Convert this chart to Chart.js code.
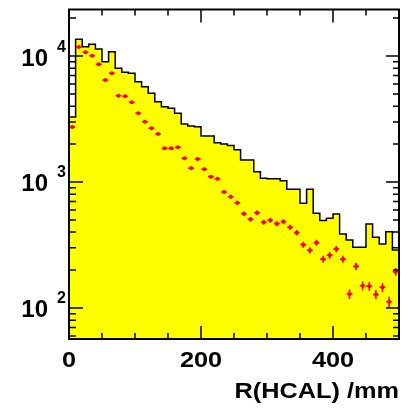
<!DOCTYPE html>
<html lang="en">
<head>
    <meta charset="UTF-8">
    <title>R(HCAL) /mm</title>
    <style>
        body { margin: 0; background: #fff; }
        #chart-container { width: 411px; height: 411px; }
    </style>
</head>
<body>
    <div id="chart-container">
        <canvas id="myChart" width="411" height="411"></canvas>
    </div>

    <script src="https://cdn.jsdelivr.net/npm/chart.js"></script>
    <script>
        // bin edges in mm (10 mm bins)
        var binEdges = [0, 10, 20, 30, 40, 50, 60, 70, 80, 90,
                        100, 110, 120, 130, 140, 150, 160, 170, 180, 190,
                        200, 210, 220, 230, 240, 250, 260, 270, 280, 290,
                        300, 310, 320, 330, 340, 350, 360, 370, 380, 390,
                        400, 410, 420, 430, 440, 450, 460, 470, 480, 490, 500];

        // yellow histogram
        var histCounts = [3280, 13560, 11850, 12390, 11360, 9010, 10810, 7980, 7430, 7290,
                          6250, 5700, 5060, 4335, 3960, 3850, 3510, 2885, 2780, 2750,
                          2318, 2318, 2050, 2000, 1945, 1800, 1496, 1496, 1208, 1070,
                          1060, 1060, 1024, 875, 875, 678, 875, 565, 494, 515,
                          557, 386, 347, 303, 303, 464, 364, 322, 403, 288];

        // red points and their errors
        var pointCounts = [2735, 11790, 10700, 10050, 8590, 6450, 7290, 4840, 4790, 4295,
                           3510, 3010, 2670, 2405, 1850, 1850, 1885, 1543, 1285, 1523,
                           1262, 1102, 1060, 833, 764, 685, 560, 506, 570, 479,
                           497, 467, 484, 437, 396, 318, 287, 330, 244, 262,
                           294, 244, 129, 214, 150, 149, 128, 146, 112, 194];
        var pointErrors = [52, 109, 103, 100, 93, 80, 85, 70, 69, 66,
                           59, 55, 52, 49, 43, 43, 43, 39, 36, 39,
                           36, 33, 33, 29, 28, 26, 24, 22, 24, 22,
                           22, 22, 22, 21, 20, 18, 17, 18, 16, 16,
                           17, 16, 11, 15, 12, 12, 11, 12, 11, 14];

        // axis ticks
        var xTicks = [0, 50, 100, 150, 200, 250, 300, 350, 400, 450, 500];
        var xLabels = [0, 200, 400];
        var yMinorTicks = [60, 70, 80, 90, 200, 300, 400, 500, 600, 700, 800, 900,
                           2000, 3000, 4000, 5000, 6000, 7000, 8000, 9000, 20000];
        var yMajorTicks = [100, 1000, 10000];
        var yExponents = ['2', '3', '4'];
        var xTitle = 'R(HCAL) /mm';

        // build datasets
        var histData = [];
        for (var i = 0; i < histCounts.length; i++) {
            histData.push({ x: binEdges[i], y: histCounts[i] });
        }
        histData.push({ x: binEdges[binEdges.length - 1], y: histCounts[histCounts.length - 1] });

        var pointData = [];
        for (var j = 0; j < pointCounts.length; j++) {
            pointData.push({ x: (binEdges[j] + binEdges[j + 1]) / 2, y: pointCounts[j] });
        }

        var FONT = '"Liberation Sans", Arial, Helvetica, sans-serif';

        // Error bars on the red points
        var errorBars = {
            id: 'errorBars',
            afterDatasetsDraw: function (chart) {
                var ctx = chart.ctx;
                var xs = chart.scales.x, ys = chart.scales.y;
                ctx.save();
                ctx.strokeStyle = 'rgb(255,0,0)';
                ctx.lineWidth = 1.6;
                for (var k = 0; k < pointCounts.length; k++) {
                    var c = (binEdges[k] + binEdges[k + 1]) / 2;
                    var px = xs.getPixelForValue(c);
                    var py = ys.getPixelForValue(pointCounts[k]);
                    ctx.beginPath();
                    ctx.moveTo(xs.getPixelForValue(c - 4.5), py);
                    ctx.lineTo(xs.getPixelForValue(c + 4.5), py);
                    ctx.moveTo(px, ys.getPixelForValue(pointCounts[k] + pointErrors[k]));
                    ctx.lineTo(px, ys.getPixelForValue(pointCounts[k] - pointErrors[k]));
                    ctx.stroke();
                }
                ctx.restore();
            }
        };

        // ROOT-style frame, inner ticks and labels
        var frame = {
            id: 'frame',
            afterDraw: function (chart) {
                var ctx = chart.ctx;
                var a = chart.chartArea;
                var xs = chart.scales.x, ys = chart.scales.y;
                ctx.save();
                ctx.strokeStyle = '#000';
                ctx.lineWidth = 1.5;
                ctx.beginPath();
                xTicks.forEach(function (v) {
                    var px = xs.getPixelForValue(v);
                    var len = (v % 200 === 0) ? 13 : 6;
                    ctx.moveTo(px, a.bottom); ctx.lineTo(px, a.bottom - len);
                    ctx.moveTo(px, a.top); ctx.lineTo(px, a.top + len);
                });
                yMinorTicks.forEach(function (v) {
                    var py = ys.getPixelForValue(v);
                    ctx.moveTo(a.left, py); ctx.lineTo(a.left + 7, py);
                    ctx.moveTo(a.right, py); ctx.lineTo(a.right - 6, py);
                });
                yMajorTicks.forEach(function (v) {
                    var py = ys.getPixelForValue(v);
                    ctx.moveTo(a.left, py); ctx.lineTo(a.left + 14, py);
                    ctx.moveTo(a.right, py); ctx.lineTo(a.right - 13, py);
                });
                ctx.stroke();

                ctx.lineWidth = 2;
                ctx.strokeRect(a.left, a.top, a.right - a.left, a.bottom - a.top);

                ctx.fillStyle = '#000';
                // y labels 10^n
                yMajorTicks.forEach(function (v, n) {
                    var py = ys.getPixelForValue(v);
                    ctx.font = 'bold 24px ' + FONT;
                    ctx.textAlign = 'right';
                    ctx.textBaseline = 'alphabetic';
                    ctx.fillText('10', 48, py + 9.5);
                    ctx.font = 'bold 16px ' + FONT;
                    ctx.textAlign = 'left';
                    ctx.fillText(yExponents[n], 57, py - 4.5);
                });
                // x labels
                ctx.font = 'bold 22px ' + FONT;
                ctx.textAlign = 'center';
                xLabels.forEach(function (v) {
                    ctx.save();
                    ctx.translate(xs.getPixelForValue(v), 366.5);
                    ctx.scale(1.15, 1);
                    ctx.fillText(String(v), 0, 0);
                    ctx.restore();
                });
                // x title
                ctx.save();
                ctx.translate(a.right, 397.5);
                ctx.scale(1.15, 1);
                ctx.textAlign = 'right';
                ctx.fillText(xTitle, 0, 0);
                ctx.restore();
                ctx.restore();
            }
        };

        var ctx = document.getElementById('myChart').getContext('2d');
        var myChart = new Chart(ctx, {
            type: 'line',
            data: {
                datasets: [
                    {
                        label: 'points',
                        type: 'scatter',
                        data: pointData,
                        showLine: false,
                        pointRadius: 2,
                        pointHoverRadius: 2,
                        pointBackgroundColor: 'rgb(255,0,0)',
                        pointBorderWidth: 0,
                        order: 1
                    },
                    {
                        label: 'histogram',
                        data: histData,
                        stepped: 'before',
                        fill: 'start',
                        backgroundColor: 'rgb(255,255,0)',
                        borderColor: '#000',
                        borderWidth: 1.5,
                        pointRadius: 0,
                        order: 2
                    }
                ]
            },
            options: {
                responsive: false,
                devicePixelRatio: 1,
                animation: false,
                layout: { padding: { left: 69, right: 12, top: 9.5, bottom: 72 } },
                scales: {
                    x: { type: 'linear', min: 0, max: 500, display: false },
                    y: { type: 'logarithmic', min: 56.7, max: 23400, display: false }
                },
                plugins: {
                    legend: { display: false },
                    tooltip: { enabled: false }
                }
            },
            plugins: [errorBars, frame]
        });
    </script>
</body>
</html>
